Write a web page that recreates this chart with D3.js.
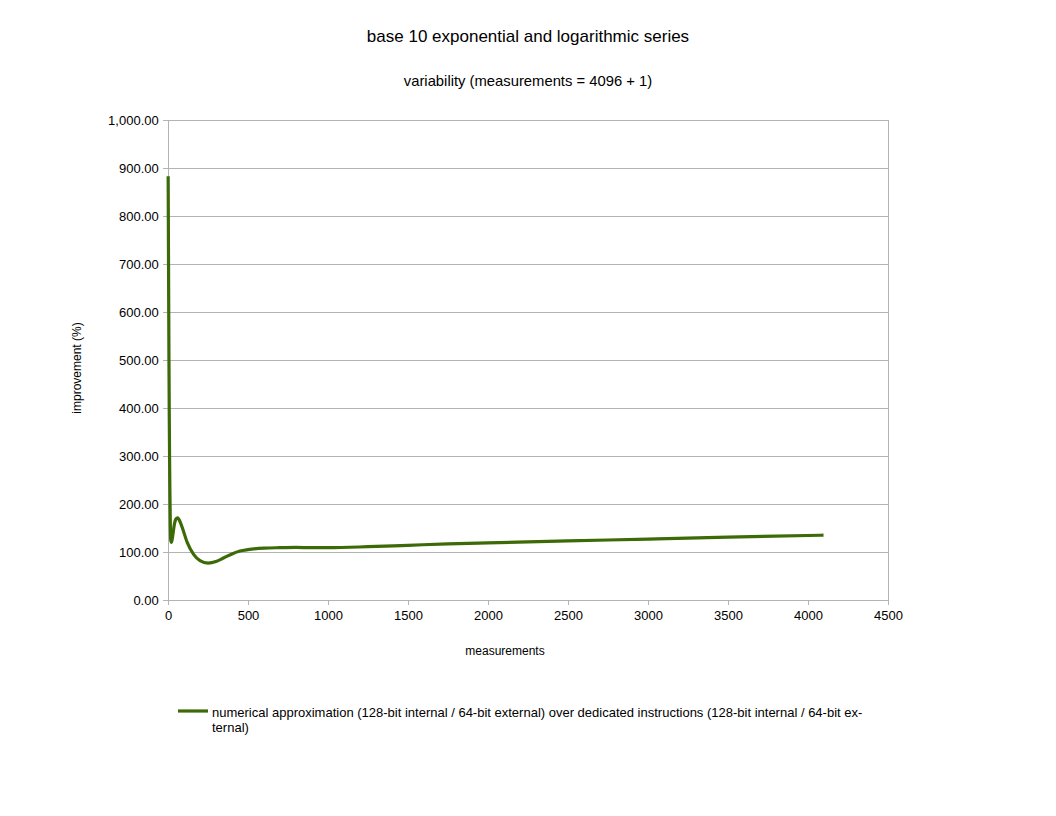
<!DOCTYPE html>
<html>
<head>
<meta charset="utf-8">
<script src="https://cdn.jsdelivr.net/npm/d3@7"></script>
<style>
  body { margin: 0; background: #fff; }
  text { font-family: "Liberation Sans", Arial, sans-serif; fill: #000; }
</style>
</head>
<body>
<div class="canvas"></div>
<script>
// data
const measurements = [1, 2, 4, 6, 8, 10, 12, 14, 17, 22, 30, 40, 50, 60, 70, 90, 120, 160, 200, 250,
    300, 350, 400, 450, 500, 600, 700, 800, 900, 1000, 1250, 1500, 1750, 2000, 2500, 3000, 3500, 4097]
const improvement = [883, 800, 650, 500, 380, 290, 220, 170, 125, 120, 135, 158, 169, 171, 167, 150, 120, 95, 82, 77,
    80, 88, 96, 102, 105, 108, 109, 109.5, 109, 109, 111, 114, 117, 119, 123, 127, 131, 135]
const xTicks = [0, 500, 1000, 1500, 2000, 2500, 3000, 3500, 4000, 4500]
const yTicks = [0, 100, 200, 300, 400, 500, 600, 700, 800, 900, 1000]
const seriesName = "numerical approximation (128-bit internal / 64-bit external) over dedicated instructions (128-bit internal / 64-bit ex-"
const seriesName2 = "ternal)"

const width = 1056
const height = 816
const margin = { top: 120, right: 168, bottom: 216, left: 168 }
const graphWidth = width - margin.left - margin.right
const graphHeight = height - margin.top - margin.bottom
const color = "#3b6a06"

const svg = d3.select(".canvas").append("svg")
    .attr("width", width)
    .attr("height", height)

svg.append("text")
    .attr("x", 528).attr("y", 42)
    .attr("text-anchor", "middle")
    .attr("font-size", 17)
    .text("base 10 exponential and logarithmic series")

svg.append("text")
    .attr("x", 528).attr("y", 86)
    .attr("text-anchor", "middle")
    .attr("font-size", 14.8)
    .text("variability (measurements = 4096 + 1)")

const graph = svg.append("g")
    .attr("transform", `translate(${margin.left}, ${margin.top})`)

const x = d3.scaleLinear().domain([0, 4500]).range([0, graphWidth])
const y = d3.scaleLinear().domain([0, 1000]).range([graphHeight, 0])

// grid
graph.append("g")
    .selectAll("line")
    .data(yTicks)
    .enter()
    .append("line")
    .attr("x1", 0).attr("x2", graphWidth)
    .attr("y1", d => y(d)).attr("y2", d => y(d))
    .attr("stroke", "#b3b3b3")
    .attr("shape-rendering", "crispEdges")

graph.append("line")
    .attr("x1", graphWidth).attr("x2", graphWidth)
    .attr("y1", 0).attr("y2", graphHeight)
    .attr("stroke", "#b3b3b3")
    .attr("shape-rendering", "crispEdges")

// axes
const xAxis = d3.axisBottom(x).tickValues(xTicks).tickSize(5).tickSizeOuter(0).tickFormat(d3.format("d"))
const yAxis = d3.axisLeft(y).tickValues(yTicks).tickSize(5).tickSizeOuter(0).tickFormat(d3.format(",.2f"))

const xAxisGroup = graph.append("g")
    .attr("transform", `translate(0, ${graphHeight})`)
    .call(xAxis)
const yAxisGroup = graph.append("g").call(yAxis)

for (const g of [xAxisGroup, yAxisGroup]) {
    g.select(".domain").attr("stroke", "#b3b3b3").attr("shape-rendering", "crispEdges")
    g.selectAll(".tick line").attr("stroke", "#b3b3b3").attr("shape-rendering", "crispEdges")
    g.selectAll("text")
        .attr("font-family", "Liberation Sans, Arial, sans-serif")
        .attr("font-size", 13)
        .attr("fill", "#000")
}
xAxisGroup.selectAll("text").attr("dy", "0.95em")
yAxisGroup.selectAll("text").attr("dx", "-0.1em")

// series
const points = measurements.map((m, i) => [m, improvement[i]])
const line = d3.line()
    .x(d => x(d[0]))
    .y(d => y(d[1]))
    .curve(d3.curveMonotoneX)

graph.append("path")
    .datum(points)
    .attr("d", line)
    .attr("fill", "none")
    .attr("stroke", color)
    .attr("stroke-width", 3.2)
    .attr("stroke-linejoin", "round")

// axis titles
svg.append("text")
    .attr("x", 505).attr("y", 655)
    .attr("text-anchor", "middle")
    .attr("font-size", 12)
    .text("measurements")

svg.append("text")
    .attr("transform", "translate(81, 368) rotate(-90)")
    .attr("text-anchor", "middle")
    .attr("font-size", 12)
    .text("improvement (%)")

// legend
svg.append("line")
    .attr("x1", 178).attr("x2", 208)
    .attr("y1", 711).attr("y2", 711)
    .attr("stroke", color)
    .attr("stroke-width", 3.2)

svg.append("text")
    .attr("x", 212).attr("y", 717)
    .attr("font-size", 13)
    .text(seriesName)

svg.append("text")
    .attr("x", 212).attr("y", 732)
    .attr("font-size", 13)
    .text(seriesName2)
</script>
</body>
</html>
